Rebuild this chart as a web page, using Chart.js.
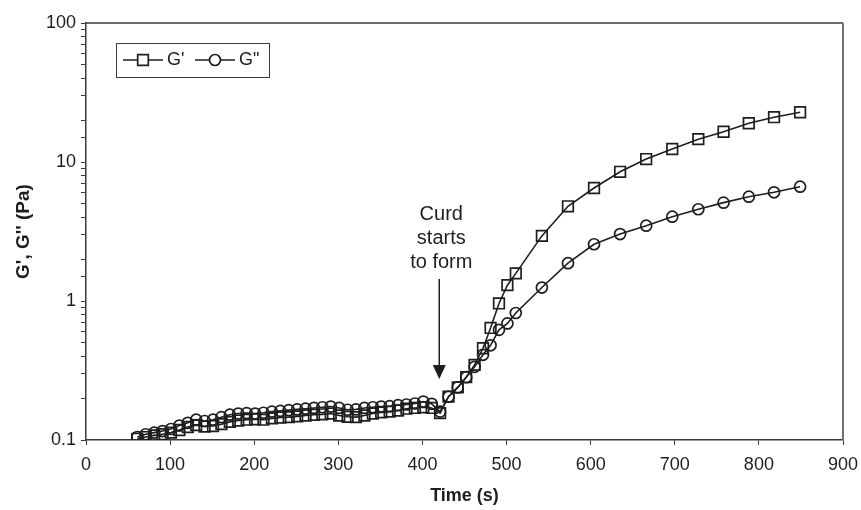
<!DOCTYPE html>
<html>
<head>
<meta charset="utf-8">
<title>G', G" vs time</title>
<script src="https://cdn.jsdelivr.net/npm/chart.js@4/dist/chart.umd.min.js"></script>
<style>
  html, body { margin: 0; padding: 0; background: #fff; }
  #wrap { width: 861px; height: 510px; }
</style>
</head>
<body>
<div id="wrap"><canvas id="chart" width="861" height="510"></canvas></div>
<script>
// sampling times (s)
const time = [61, 71, 81, 91, 101, 111, 121, 131, 141, 151, 161, 171, 181, 191, 201, 211, 221, 231, 241, 251,
  261, 271, 281, 291, 301, 311, 321, 331, 341, 351, 361, 371, 381, 391, 401, 411, 421,
  431, 442, 452, 462, 472, 481, 491, 501, 511, 542, 573, 604, 635, 666, 697, 728, 758, 788, 818, 849];

// storage modulus G' (Pa)
const gPrime = [0.102, 0.105, 0.108, 0.110, 0.113, 0.118, 0.124, 0.128, 0.125, 0.126, 0.130, 0.135, 0.138, 0.140,
  0.141, 0.140, 0.143, 0.145, 0.146, 0.148, 0.150, 0.152, 0.153, 0.155, 0.150, 0.147, 0.146, 0.150, 0.155,
  0.158, 0.160, 0.163, 0.168, 0.170, 0.172, 0.170, 0.156,
  0.205, 0.239, 0.283, 0.347, 0.457, 0.64, 0.96, 1.30, 1.58, 2.94, 4.8, 6.5, 8.5, 10.5, 12.4, 14.6, 16.5, 19.0, 21.0, 22.8];

// loss modulus G" (Pa)
const gDouble = [0.105, 0.110, 0.113, 0.116, 0.120, 0.127, 0.133, 0.140, 0.137, 0.140, 0.146, 0.152, 0.155, 0.156,
  0.155, 0.157, 0.160, 0.162, 0.164, 0.166, 0.168, 0.170, 0.172, 0.174, 0.170, 0.165, 0.166, 0.170, 0.172,
  0.174, 0.175, 0.178, 0.180, 0.183, 0.189, 0.182, 0.160,
  0.205, 0.239, 0.283, 0.336, 0.41, 0.48, 0.62, 0.69, 0.82, 1.25, 1.87, 2.56, 3.03, 3.48, 4.04, 4.57, 5.10, 5.63, 6.05, 6.64];

const seriesNames = ["G'", 'G"'];
const xTicks = [0, 100, 200, 300, 400, 500, 600, 700, 800, 900];
const yDecades = [0.1, 1, 10, 100];

// annotation: where the curd begins to set
const curdTime = 420;
const curdArrowTip = 0.275;
const curdText = ['Curd', 'starts', 'to form'];

const FONT = '"Liberation Sans", Arial, sans-serif';
const INK = '#1e1e1e';

function points(ys) {
  return time.map((t, i) => ({ x: t, y: ys[i] }));
}

// box around the plot area, like the original software draws it
const frame = {
  id: 'frame',
  afterDraw(chart) {
    const { ctx, chartArea: a } = chart;
    ctx.save();
    ctx.strokeStyle = '#3a3a3a';
    ctx.lineWidth = 1.5;
    ctx.beginPath();
    ctx.moveTo(a.left, a.top);
    ctx.lineTo(a.right, a.top);
    ctx.stroke();
    ctx.strokeStyle = '#707070';
    ctx.lineWidth = 2;
    ctx.beginPath();
    ctx.moveTo(a.right, a.top);
    ctx.lineTo(a.right, a.bottom);
    ctx.stroke();
    ctx.restore();
  }
};

// boxed legend with line-through-marker samples
const boxLegend = {
  id: 'boxLegend',
  afterDraw(chart) {
    const { ctx } = chart;
    const left = 116, top = 43, w = 153, h = 34;
    ctx.save();
    ctx.strokeStyle = '#3a3a3a';
    ctx.lineWidth = 1;
    ctx.strokeRect(left + 0.5, top + 0.5, w, h);
    const cy = top + h / 2;
    const items = [{ x0: 123, x1: 163 }, { x0: 195, x1: 235 }];
    chart.data.datasets.forEach((ds, i) => {
      const it = items[i];
      ctx.strokeStyle = INK;
      ctx.lineWidth = 1.5;
      ctx.beginPath();
      ctx.moveTo(it.x0, cy);
      ctx.lineTo(it.x1, cy);
      ctx.stroke();
      ctx.fillStyle = '#fff';
      ctx.lineWidth = ds.pointBorderWidth;
      Chart.helpers.drawPoint(ctx, {
        pointStyle: ds.pointStyle,
        radius: ds.pointRadius,
        borderWidth: ds.pointBorderWidth
      }, (it.x0 + it.x1) / 2, cy);
      ctx.fillStyle = INK;
      ctx.font = '18px ' + FONT;
      ctx.textBaseline = 'middle';
      ctx.textAlign = 'left';
      ctx.fillText(ds.label, it.x1 + 4, cy);
    });
    ctx.restore();
  }
};

// "Curd starts to form" label and arrow
const curdNote = {
  id: 'curdNote',
  afterDraw(chart) {
    const { ctx, scales } = chart;
    const x = scales.x.getPixelForValue(curdTime);
    const tip = scales.y.getPixelForValue(curdArrowTip);
    ctx.save();
    ctx.fillStyle = INK;
    ctx.font = '20px ' + FONT;
    ctx.textAlign = 'center';
    ctx.textBaseline = 'middle';
    curdText.forEach((s, i) => ctx.fillText(s, x + 2, 214 + i * 24));
    ctx.strokeStyle = INK;
    ctx.lineWidth = 1.5;
    ctx.beginPath();
    ctx.moveTo(x, 279);
    ctx.lineTo(x, tip - 12);
    ctx.stroke();
    ctx.beginPath();
    ctx.moveTo(x - 6.5, tip - 14);
    ctx.lineTo(x + 6.5, tip - 14);
    ctx.lineTo(x, tip);
    ctx.closePath();
    ctx.fill();
    ctx.restore();
  }
};

const common = {
  borderColor: INK,
  borderWidth: 1.6,
  pointBorderColor: INK,
  pointBackgroundColor: 'rgba(255,255,255,0)',
  pointBorderWidth: 1.7,
  tension: 0,
  fill: false
};

new Chart(document.getElementById('chart'), {
  type: 'line',
  data: {
    datasets: [
      Object.assign({ label: seriesNames[0], data: points(gPrime), pointStyle: 'rect', pointRadius: 7.5 }, common),
      Object.assign({ label: seriesNames[1], data: points(gDouble), pointStyle: 'circle', pointRadius: 5.5 }, common)
    ]
  },
  options: {
    responsive: false,
    animation: false,
    layout: { padding: { top: 23, right: 0, left: 0, bottom: 0 } },
    plugins: { legend: { display: false }, tooltip: { enabled: false } },
    scales: {
      x: {
        type: 'linear',
        min: xTicks[0],
        max: xTicks[xTicks.length - 1],
        afterBuildTicks(scale) { scale.ticks = xTicks.map(v => ({ value: v })); },
        afterFit(scale) {
          scale.height = 70;
          scale.paddingLeft = 0;
          scale.paddingRight = 18;
        },
        grid: { drawOnChartArea: false, tickLength: 5, color: '#3a3a3a', lineWidth: 1 },
        border: { color: '#3a3a3a', width: 1.5 },
        ticks: { color: INK, font: { family: FONT, size: 18 }, padding: 9, maxRotation: 0 },
        title: {
          display: true, text: 'Time (s)', color: INK,
          font: { family: FONT, size: 18, weight: 'bold' }, padding: { top: 4, bottom: 3 }
        }
      },
      y: {
        type: 'logarithmic',
        min: yDecades[0],
        max: yDecades[yDecades.length - 1],
        afterFit(scale) { scale.width = 86; },
        grid: { drawOnChartArea: false, tickLength: 5, color: '#3a3a3a', lineWidth: 1 },
        border: { color: '#3a3a3a', width: 1.5 },
        ticks: {
          autoSkip: false,
          color: INK,
          font: { family: FONT, size: 18 },
          padding: 5,
          callback(v) {
            return yDecades.some(d => Math.abs(d - v) / d < 1e-6) ? String(v) : '';
          }
        },
        title: {
          display: true, text: 'G\', G\'\' (Pa)', color: INK,
          font: { family: FONT, size: 19, weight: 'bold' }, padding: { top: 12, bottom: 4 }
        }
      }
    }
  },
  plugins: [frame, boxLegend, curdNote]
});
</script>
</body>
</html>
